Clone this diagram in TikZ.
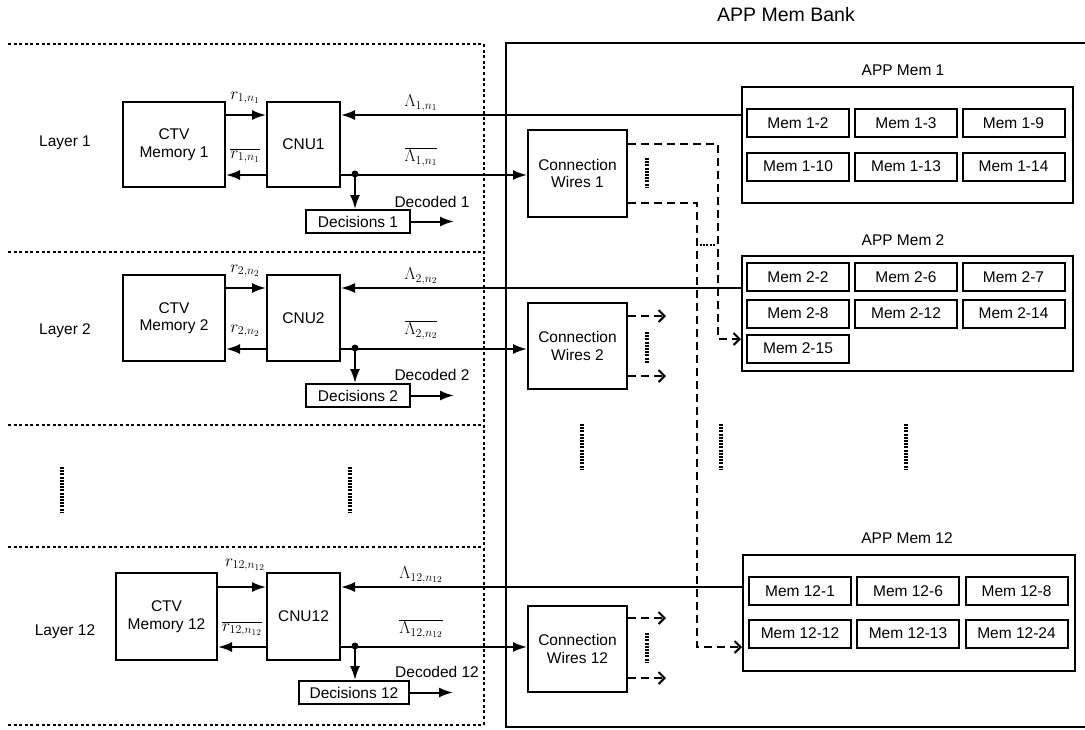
\documentclass[tikz,border=0pt]{standalone}
\usepackage{fontspec}
\setmainfont{Liberation Sans}
\usetikzlibrary{arrows.meta}

\newcommand\txtsize{\fontsize{15.5}{17.5}\selectfont}
\newcommand\mathlbl{\fontsize{18}{20}\selectfont}

\tikzset{
  box/.style={draw, line width=2pt, align=center, inner sep=0pt, font=\txtsize},
  membox/.style={box, minimum width=102pt, minimum height=28pt},
  bank/.style={draw, line width=2pt, minimum width=331pt, minimum height=116pt},
  sig/.style={line width=2pt, -{Latex[length=14pt,width=10pt]}},
  wire/.style={line width=2pt},
  dsh/.style={line width=2pt, dash pattern=on 8pt off 5pt, -{Straight Barb[length=6pt,width=12pt,line width=2pt]}},
  frame/.style={line width=2pt, dash pattern=on 3pt off 2.6pt},
  ell/.style={line width=3.5pt, dash pattern=on 2pt off 1.2pt},
  lbl/.style={font=\mathlbl, inner sep=0pt},
  txt/.style={font=\txtsize, inner sep=0pt},
  dot/.style={circle, fill, inner sep=0pt, minimum size=7pt}
}

\begin{document}
\begin{tikzpicture}[x=1pt, y=-1pt]
\useasboundingbox (0,0) rectangle (1085,729);

% ---------- layer frame (dotted) ----------
\foreach \yy in {44,252,425,547,725}
  \draw[frame] (8,\yy) -- (484,\yy);
\draw[frame] (484,44) -- (484,725);

% ---------- APP memory bank enclosure ----------
\draw[wire] (1085,43) -- (506,43) -- (506,727) -- (1085,727);
\node[font=\fontsize{19.5}{22}\selectfont] (banktitle) at (786,15) {APP Mem Bank};

% ---------- APP Mem 1 ----------
\node[txt] (t1) at (903,70) {APP Mem 1};
\node[bank] (app1) at (907.5,145) {};
\node[membox] (m1a) at (798,123) {Mem 1-2};
\node[membox] (m1b) at (906,123) {Mem 1-3};
\node[membox] (m1c) at (1013.5,123) {Mem 1-9};
\node[membox] (m1d) at (798,166.5) {Mem 1-10};
\node[membox] (m1e) at (906,166.5) {Mem 1-13};
\node[membox] (m1f) at (1013.5,166.5) {Mem 1-14};

% ---------- APP Mem 2 ----------
\node[txt] (t2) at (903,240) {APP Mem 2};
\node[bank, minimum height=115pt] (app2) at (907.5,313.5) {};
\node[membox] (m2a) at (798,277) {Mem 2-2};
\node[membox] (m2b) at (906,277) {Mem 2-6};
\node[membox] (m2c) at (1013.5,277) {Mem 2-7};
\node[membox] (m2d) at (798,313.5) {Mem 2-8};
\node[membox] (m2e) at (906,313.5) {Mem 2-12};
\node[membox] (m2f) at (1013.5,313.5) {Mem 2-14};
\node[membox] (m2g) at (798,348.5) {Mem 2-15};

% ---------- APP Mem 12 ----------
\node[txt] (t12) at (907,538) {APP Mem 12};
\node[bank, minimum width=332pt] (app12) at (909,613) {};
\node[membox] (m12a) at (800,591) {Mem 12-1};
\node[membox] (m12b) at (908,591) {Mem 12-6};
\node[membox] (m12c) at (1016.5,591) {Mem 12-8};
\node[membox] (m12d) at (800,633.5) {Mem 12-12};
\node[membox] (m12e) at (908,633.5) {Mem 12-13};
\node[membox] (m12f) at (1016.5,633.5) {Mem 12-24};

% ---------- connection wires ----------
\node[box, minimum width=99pt, minimum height=87pt] (cw1) at (577.5,173.5) {Connection\\Wires 1};
\node[box, minimum width=99pt, minimum height=86pt] (cw2) at (577.5,346) {Connection\\Wires 2};
\node[box, minimum width=99pt, minimum height=86pt] (cw12) at (577.5,649) {Connection\\Wires 12};

% ---------- layer 1 ----------
\node[txt] (lay1) at (65,143) {Layer 1};
\node[box, minimum width=102pt, minimum height=85pt] (ctv1) at (174,144.5) {CTV\\Memory 1};
\node[box, minimum width=73pt, minimum height=85pt] (cnu1) at (303.5,144.5) {CNU1};
\node[box, minimum width=104pt, minimum height=23pt] (dec1) at (358,221.5) {Decisions 1};
\draw[sig] ([yshift=-14pt]ctv1.north east) -- ([yshift=-14pt]cnu1.north west);
\draw[sig] ([yshift=13pt]cnu1.south west) -- ([yshift=13pt]ctv1.south east);
\coordinate (in1) at ([yshift=-14pt]cnu1.north east);
\coordinate (out1) at ([yshift=13pt]cnu1.south east);
\draw[sig] (in1 -| app1.west) -- (in1);
\draw[sig] (out1) -- (out1 -| cw1.west);
\node[dot] (dot1) at (355,174) {};
\draw[sig] (dot1.center) -- (dot1.center |- dec1.north);
\draw[sig] (dec1.east) -- ++(43,0) coordinate (dec1out);
\node[txt] (dcd1) at (432,202) {Decoded 1};
\node[lbl] (r1) at (245,98) {$r_{1,n_1}$};
\node[lbl] (rb1) at (245,156) {$\overline{r_{1,n_1}}$};
\node[lbl] (L1) at (421,103) {$\Lambda_{1,n_1}$};
\node[lbl] (Lb1) at (421,157) {$\overline{\Lambda_{1,n_1}}$};

% ---------- layer 2 ----------
\node[txt] (lay2) at (65,331) {Layer 2};
\node[box, minimum width=102pt, minimum height=86pt] (ctv2) at (174,318) {CTV\\Memory 2};
\node[box, minimum width=73pt, minimum height=86pt] (cnu2) at (303.5,318) {CNU2};
\node[box, minimum width=104pt, minimum height=23pt] (dec2) at (358,395.5) {Decisions 2};
\draw[sig] ([yshift=-14pt]ctv2.north east) -- ([yshift=-14pt]cnu2.north west);
\draw[sig] ([yshift=13pt]cnu2.south west) -- ([yshift=13pt]ctv2.south east);
\coordinate (in2) at ([yshift=-14pt]cnu2.north east);
\coordinate (out2) at ([yshift=13pt]cnu2.south east);
\draw[sig] (in2 -| app2.west) -- (in2);
\draw[sig] (out2) -- (out2 -| cw2.west);
\node[dot] (dot2) at (355,348) {};
\draw[sig] (dot2.center) -- (dot2.center |- dec2.north);
\draw[sig] (dec2.east) -- ++(43,0) coordinate (dec2out);
\node[txt] (dcd2) at (432,375) {Decoded 2};
\node[lbl] (r2) at (245,271) {$r_{2,n_2}$};
\node[lbl] (rb2) at (245,331) {$r_{2,n_2}$};
\node[lbl] (L2) at (421,276) {$\Lambda_{2,n_2}$};
\node[lbl] (Lb2) at (421,330) {$\overline{\Lambda_{2,n_2}}$};

% ---------- layer 12 ----------
\node[txt] (lay12) at (65,632) {Layer 12};
\node[box, minimum width=101pt, minimum height=87pt] (ctv12) at (166.5,616.5) {CTV\\Memory 12};
\node[box, minimum width=73pt, minimum height=87pt] (cnu12) at (303.5,616.5) {CNU12};
\node[box, minimum width=110pt, minimum height=23pt] (dec12) at (354,692.5) {Decisions 12};
\draw[sig] ([yshift=-15pt]ctv12.north east) -- ([yshift=-15pt]cnu12.north west);
\draw[sig] ([yshift=14pt]cnu12.south west) -- ([yshift=14pt]ctv12.south east);
\coordinate (in12) at ([yshift=-15pt]cnu12.north east);
\coordinate (out12) at ([yshift=14pt]cnu12.south east);
\draw[sig] (in12 -| app12.west) -- (in12);
\draw[sig] (out12) -- (out12 -| cw12.west);
\node[dot] (dot12) at (355,646) {};
\draw[sig] (dot12.center) -- (dot12.center |- dec12.north);
\draw[sig] (dec12.east) -- ++(43,0) coordinate (dec12out);
\node[txt] (dcd12) at (437,672) {Decoded 12};
\node[lbl] (r12) at (245,565) {$r_{12,n_{12}}$};
\node[lbl] (rb12) at (242,629) {$\overline{r_{12,n_{12}}}$};
\node[lbl] (L12) at (421,575) {$\Lambda_{12,n_{12}}$};
\node[lbl] (Lb12) at (421,629) {$\overline{\Lambda_{12,n_{12}}}$};

% ---------- dashed wire outputs ----------
\coordinate (b1) at (718,339);
\coordinate (b2) at (697,647);
\draw[dsh] ([yshift=-15pt]cw1.north east) -| (b1) -- (b1 -| app2.west);
\draw[dsh] ([yshift=15pt]cw1.south east) -| (b2) -- (b2 -| app12.west);
\draw[dsh] ([yshift=-14pt]cw2.north east) -- ++(38,0);
\draw[dsh] ([yshift=14pt]cw2.south east) -- ++(38,0);
\draw[dsh] ([yshift=-13pt]cw12.north east) -- ++(38,0);
\draw[dsh] ([yshift=15pt]cw12.south east) -- ++(38,0);

% ---------- ellipsis marks ----------
\draw[ell] (647,158) -- (647,187);
\draw[ell] (647,332) -- (647,363);
\draw[ell] (647,633) -- (647,663);
\draw[ell, line width=2.5pt] (700,245) -- (716,245);
\draw[ell] (62,467) -- (62,513);
\draw[ell] (350,467) -- (350,513);
\draw[ell] (582,424) -- (582,470);
\draw[ell] (721,424) -- (721,470);
\draw[ell] (906,424) -- (906,470);
\end{tikzpicture}
\end{document}
